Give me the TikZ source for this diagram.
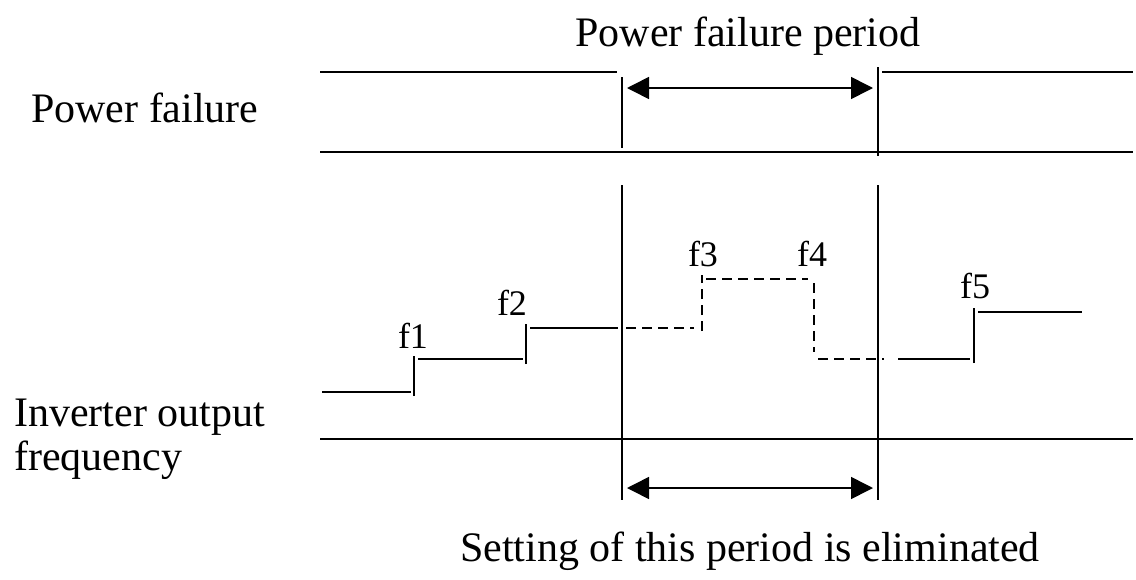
\documentclass[tikz,border=0pt]{standalone}
\usepackage{fontspec}
\setmainfont{Liberation Serif}
\usetikzlibrary{arrows.meta}

\begin{document}
\begin{tikzpicture}[
  x=1pt,
  y=-1pt,
  caption/.style={
    font=\fontsize{42}{48}\selectfont,
    inner sep=0pt
  },
  steplabel/.style={
    font=\fontsize{36}{42}\selectfont,
    inner sep=0pt
  },
  level/.style={
    line width=1.6pt
  },
  guessed/.style={
    line width=1.6pt,
    dash pattern=on 10pt off 6pt
  },
  span/.style={
    {Triangle[length=22pt,width=22pt]}-{Triangle[length=22pt,width=22pt]},
    line width=1.6pt
  }
]
\useasboundingbox (0,0) rectangle (1136,579);

% Captions
\node[caption, anchor=base] (period) at (748,46) {Power failure period};
\node[caption, anchor=base west] (pf) at (31,122) {Power failure};
\node[caption, anchor=base west] (inv) at (14,426) {Inverter output};
\node[caption, anchor=base west] (freq) at (14,470) {frequency};
\node[caption, anchor=base] (elim) at (750,561) {Setting of this period is eliminated};

% Power failure signal
\coordinate (pfA) at (320,72);
\coordinate (pfB) at (617,72);
\coordinate (pfC) at (882,72);
\coordinate (pfD) at (1133,72);
\coordinate (pfE) at (320,152);
\coordinate (pfF) at (1133,152);
\draw[level] (pfA) -- (pfB);
\draw[level] (pfC) -- (pfD);
\draw[level] (pfE) -- (pfF);

\coordinate (cutT) at (622,77);
\coordinate (cutB) at (622,148);
\coordinate (backT) at (878,67);
\coordinate (backB) at (878,156);
\draw[level] (cutT) -- (cutB);
\draw[level] (backT) -- (backB);

\coordinate (spanL) at (627,88);
\coordinate (spanR) at (873,88);
\draw[span] (spanL) -- (spanR);

% Frequency markers
\coordinate (lowT) at (622,185);
\coordinate (lowB) at (622,500);
\coordinate (highT) at (878,185);
\coordinate (highB) at (878,500);
\draw[level] (lowT) -- (lowB);
\draw[level] (highT) -- (highB);

\coordinate (axL) at (320,439);
\coordinate (axR) at (1133,439);
\draw[level] (axL) -- (axR);

\coordinate (elimL) at (627,488);
\coordinate (elimR) at (873,488);
\draw[span] (elimL) -- (elimR);

% Output steps
\coordinate (s0a) at (322,392);
\coordinate (s0b) at (411,392);
\coordinate (v1a) at (414,396);
\coordinate (v1b) at (414,356);
\coordinate (s1a) at (418,359);
\coordinate (s1b) at (523,359);
\coordinate (v2a) at (526,364);
\coordinate (v2b) at (526,324);
\coordinate (s2a) at (530,328);
\coordinate (s2b) at (618,328);
\draw[level] (s0a) -- (s0b);
\draw[level] (v1a) -- (v1b);
\draw[level] (s1a) -- (s1b);
\draw[level] (v2a) -- (v2b);
\draw[level] (s2a) -- (s2b);

\coordinate (d2a) at (626,328);
\coordinate (d2b) at (694,328);
\coordinate (v3a) at (702,331);
\coordinate (v3b) at (702,275);
\coordinate (d3a) at (706,279);
\coordinate (d3b) at (808,279);
\coordinate (v4a) at (814,283);
\coordinate (v4b) at (814,352);
\coordinate (d4a) at (818,359);
\coordinate (d4b) at (884,359);
\draw[guessed] (d2a) -- (d2b);
\draw[guessed] (v3a) -- (v3b);
\draw[guessed] (d3a) -- (d3b);
\draw[guessed] (v4a) -- (v4b);
\draw[guessed] (d4a) -- (d4b);

\coordinate (s4a) at (898,359);
\coordinate (s4b) at (970,359);
\coordinate (v5a) at (974,363);
\coordinate (v5b) at (974,308);
\coordinate (s5a) at (978,312);
\coordinate (s5b) at (1082,312);
\draw[level] (s4a) -- (s4b);
\draw[level] (v5a) -- (v5b);
\draw[level] (s5a) -- (s5b);

% Step labels
\node[steplabel, anchor=base] (f1) at (413,348) {f1};
\node[steplabel, anchor=base] (f2) at (512,315) {f2};
\node[steplabel, anchor=base] (f3) at (703,266) {f3};
\node[steplabel, anchor=base] (f4) at (812,266) {f4};
\node[steplabel, anchor=base] (f5) at (975,298) {f5};

\end{tikzpicture}
\end{document}
